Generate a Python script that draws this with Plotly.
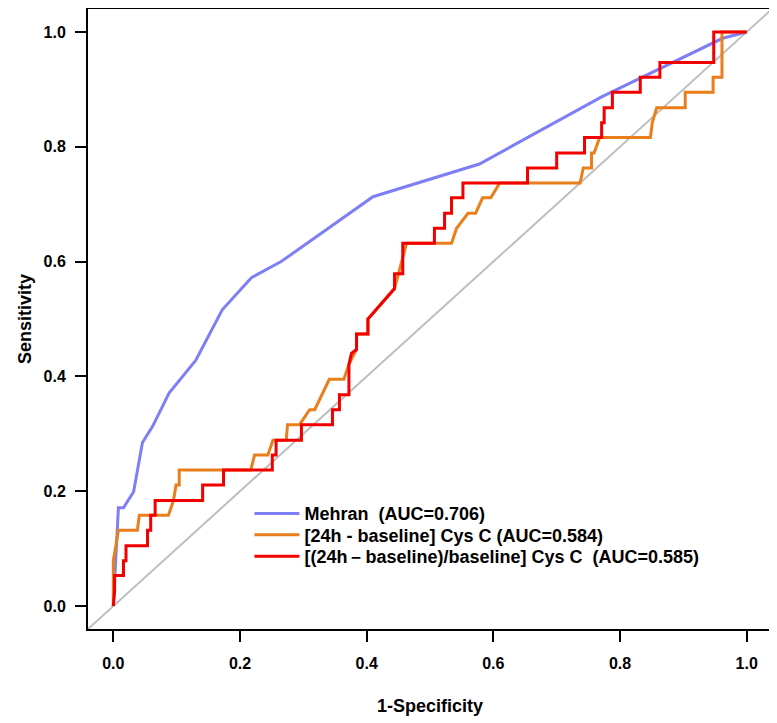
import plotly.graph_objects as go

# ---- data ----
mehran_fpr = [0, 0.006, 0.008, 0.016, 0.032, 0.046, 0.062, 0.088, 0.130, 0.172,
              0.218, 0.265, 0.410, 0.578, 0.771, 0.962, 1.0]
mehran_tpr = [0, 0.120, 0.171, 0.171, 0.199, 0.285, 0.313, 0.371, 0.428, 0.516,
              0.572, 0.600, 0.713, 0.770, 0.887, 0.989, 1.0]

diff_fpr = [0, 0, 0.000, 0.004, 0.008, 0.038, 0.041, 0.087, 0.095, 0.099, 0.104,
            0.104, 0.217, 0.223, 0.244, 0.252, 0.273, 0.275, 0.294, 0.310, 0.318,
            0.341, 0.364, 0.372, 0.384, 0.384, 0.402, 0.402, 0.444, 0.463, 0.534,
            0.542, 0.560, 0.572, 0.583, 0.596, 0.610, 0.737, 0.742, 0.755, 0.755,
            0.759, 0.768, 0.848, 0.851, 0.858, 0.903, 0.903, 0.947, 0.947, 0.961,
            0.961, 1.0]
diff_tpr = [0, 0.026, 0.079, 0.105, 0.132, 0.132, 0.158, 0.158, 0.184, 0.211, 0.211,
            0.237, 0.237, 0.263, 0.263, 0.289, 0.289, 0.316, 0.316, 0.342, 0.342,
            0.395, 0.395, 0.421, 0.447, 0.474, 0.474, 0.500, 0.553, 0.632, 0.632,
            0.658, 0.684, 0.684, 0.711, 0.711, 0.737, 0.737, 0.763, 0.763, 0.789,
            0.789, 0.816, 0.816, 0.842, 0.868, 0.868, 0.895, 0.895, 0.921, 0.921,
            1.0, 1.0]

ratio_fpr = [0, 0.002, 0.002, 0.016, 0.016, 0.020, 0.020, 0.054, 0.054, 0.059, 0.059,
             0.066, 0.066, 0.141, 0.141, 0.174, 0.174, 0.251, 0.251, 0.257, 0.257,
             0.297, 0.297, 0.346, 0.346, 0.357, 0.357, 0.372, 0.372, 0.376, 0.384,
             0.384, 0.402, 0.402, 0.444, 0.444, 0.457, 0.457, 0.507, 0.507, 0.523,
             0.523, 0.534, 0.534, 0.552, 0.552, 0.654, 0.654, 0.700, 0.700, 0.744,
             0.744, 0.771, 0.771, 0.775, 0.775, 0.788, 0.788, 0.832, 0.832, 0.863,
             0.863, 0.948, 0.948, 1.0]
ratio_tpr = [0, 0.026, 0.053, 0.053, 0.079, 0.079, 0.105, 0.105, 0.132, 0.132, 0.158,
             0.158, 0.184, 0.184, 0.211, 0.211, 0.237, 0.237, 0.263, 0.263, 0.289,
             0.289, 0.316, 0.316, 0.342, 0.342, 0.368, 0.368, 0.421, 0.440, 0.447,
             0.474, 0.474, 0.500, 0.553, 0.579, 0.579, 0.632, 0.632, 0.658, 0.658,
             0.684, 0.684, 0.711, 0.711, 0.737, 0.737, 0.763, 0.763, 0.789, 0.789,
             0.816, 0.816, 0.842, 0.842, 0.868, 0.868, 0.895, 0.895, 0.921, 0.921,
             0.947, 0.947, 1.0, 1.0]

ref_line = [-0.04, 1.04]
tick_vals = [0.0, 0.2, 0.4, 0.6, 0.8, 1.0]
tick_text = ["0.0", "0.2", "0.4", "0.6", "0.8", "1.0"]

names = ["Mehran\u00a0\u00a0(AUC=0.706)",
         "[24h - baseline] Cys C (AUC=0.584)",
         "[(24h\uff0dbaseline)/baseline] Cys C\u00a0\u00a0(AUC=0.585)"]
colors = ["#7F7FF5", "#E97E1B", "#F20000"]
legend_ids = ["legend", "legend2", "legend3"]
legend_tops = [0.2157, 0.1815, 0.1465]

FONT = "Liberation Sans, Arial, Helvetica, sans-serif"

fig = go.Figure()
fig.add_trace(go.Scatter(x=ref_line, y=ref_line, mode="lines",
                         line=dict(color="#BEBEBE", width=2), showlegend=False,
                         hoverinfo="skip"))
for i, (xs, ys) in enumerate([(mehran_fpr, mehran_tpr), (diff_fpr, diff_tpr),
                              (ratio_fpr, ratio_tpr)]):
    fig.add_trace(go.Scatter(x=xs, y=ys, mode="lines", name=names[i],
                             line=dict(color=colors[i], width=3),
                             legend=legend_ids[i]))

axis_common = dict(
    range=[-0.04, 1.04], showgrid=False, zeroline=False,
    showline=True, mirror=True, linecolor="black", linewidth=2,
    ticks="outside", ticklen=11, tickwidth=2, tickcolor="black",
    tickvals=tick_vals, ticktext=tick_text,
    tickfont=dict(family=FONT, size=16, color="black", weight="bold"),
)

def legend_box(ytop):
    return dict(x=0.236, y=ytop, xanchor="left", yanchor="top",
                bgcolor="rgba(0,0,0,0)", borderwidth=0, itemwidth=45,
                font=dict(family=FONT, size=18, color="black", weight="bold"))

# page body has an 8px margin, so the figure is sized to fit the 777x723 window
fig.update_layout(
    width=769, height=715,
    margin=dict(l=80, r=5, t=1, b=94, autoexpand=False),
    paper_bgcolor="white", plot_bgcolor="white",
    xaxis=dict(**axis_common, ticklabelstandoff=8, automargin=False,
               title=dict(text="1-Specificity", standoff=28,
                          font=dict(family=FONT, size=18, color="black", weight="bold"))),
    yaxis=dict(**axis_common, ticklabelstandoff=6, automargin=False,
               title=dict(text="Sensitivity", standoff=7,
                          font=dict(family=FONT, size=18, color="black", weight="bold"))),
    legend=legend_box(legend_tops[0]),
    legend2=legend_box(legend_tops[1]),
    legend3=legend_box(legend_tops[2]),
    showlegend=True,
)

fig.write_html("out.html")
